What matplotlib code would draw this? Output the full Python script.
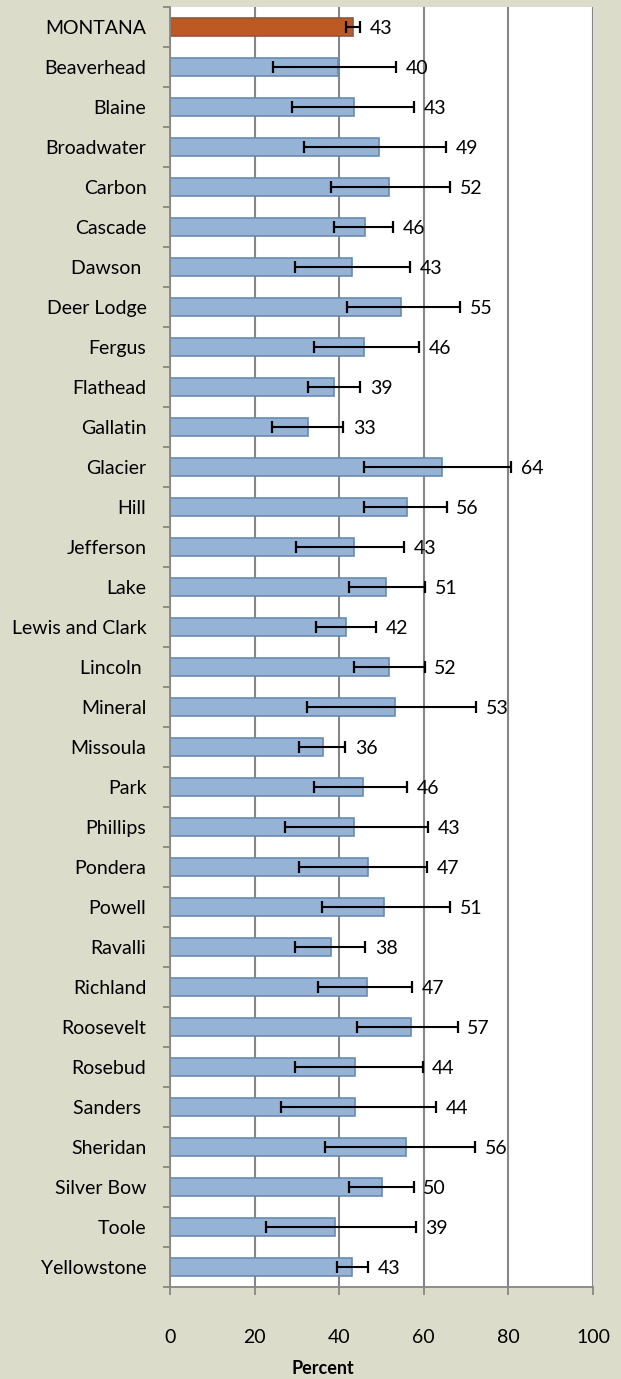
import matplotlib
matplotlib.use("Agg")
import matplotlib.pyplot as plt
import numpy as np

counties = ["MONTANA", "Beaverhead", "Blaine", "Broadwater", "Carbon", "Cascade", "Dawson ",
            "Deer Lodge", "Fergus", "Flathead", "Gallatin", "Glacier", "Hill", "Jefferson",
            "Lake", "Lewis and Clark", "Lincoln ", "Mineral", "Missoula", "Park", "Phillips",
            "Pondera", "Powell", "Ravalli", "Richland", "Roosevelt", "Rosebud", "Sanders ",
            "Sheridan", "Silver Bow", "Toole", "Yellowstone"]
values = [43.3, 39.8, 43.4, 49.4, 51.7, 46.1, 43.1,
          54.5, 45.8, 38.8, 32.7, 64.4, 56.1, 43.4,
          51.1, 41.7, 51.7, 53.3, 36.2, 45.7, 43.4,
          46.8, 50.6, 38.0, 46.5, 56.9, 43.8, 43.8,
          55.7, 50.2, 39.1, 43.1]
ci_low = [41.5, 24.4, 28.9, 31.7, 38.0, 38.8, 29.5,
          41.9, 34.1, 32.6, 24.1, 45.9, 45.9, 29.9,
          42.2, 34.6, 43.5, 32.3, 30.6, 34.0, 27.3,
          30.5, 35.9, 29.5, 35.0, 44.2, 29.6, 26.2,
          36.6, 42.4, 22.6, 39.4]
ci_high = [45.0, 53.4, 57.6, 65.3, 66.3, 52.8, 56.8,
           68.5, 58.9, 45.0, 40.9, 80.6, 65.4, 55.4,
           60.3, 48.7, 60.2, 72.3, 41.4, 56.0, 61.1,
           60.8, 66.3, 46.1, 57.2, 68.0, 59.7, 62.8,
           72.2, 57.6, 58.1, 46.9]
labels = ["43", "40", "43", "49", "52", "46", "43", "55", "46", "39", "33", "64", "56", "43",
          "51", "42", "52", "53", "36", "46", "43", "47", "51", "38", "47", "57", "44", "44",
          "56", "50", "39", "43"]
xticks = [0, 20, 40, 60, 80, 100]

plt.rcParams['font.family'] = ['Lato', 'DejaVu Sans']

bg = '#dcdccb'
fig = plt.figure(figsize=(6.21, 13.79), dpi=100, facecolor=bg)
ax = fig.add_axes([170/621, 1 - 1287/1379, (593-170)/621, (1287-7)/1379])
ax.set_facecolor('white')

n = len(counties)
y = np.arange(n)
colors = ['#bd5a24'] + ['#95b3d7'] * (n - 1)
edges = ['#8a5a40'] + ['#6a8bb0'] * (n - 1)
ax.barh(y, values, height=0.44, color=colors, edgecolor=edges, linewidth=1.2, zorder=2)

vals = np.array(values)
xerr = np.vstack([vals - np.array(ci_low), np.array(ci_high) - vals])
ax.errorbar(vals, y, xerr=xerr, fmt='none', ecolor='black', elinewidth=1.5,
            capsize=4, capthick=1.6, zorder=3)

for yi, hi, lab in zip(y, ci_high, labels):
    ax.text(hi + 2.3, yi + 0.03, lab, va='center', ha='left', fontsize=14, color='black', zorder=4)

ax.set_ylim(n - 0.5, -0.5)
ax.set_xlim(0, 100)
ax.set_xticks(xticks)
ax.set_xticklabels([str(t) for t in xticks], fontsize=14)
ax.set_yticks(y)
ax.set_yticklabels(counties, fontsize=14)
ax.tick_params(axis='y', length=0, pad=17)
ax.set_yticks(np.arange(n + 1) - 0.5, minor=True)
ax.tick_params(axis='y', which='minor', length=5, color='#868686', width=1.3, direction='out')
ax.tick_params(axis='x', length=6, color='#868686', width=1.3, direction='out', pad=24)

ax.xaxis.grid(True, color='#868686', linewidth=1.5, zorder=0)
ax.set_axisbelow(True)
for s in ['top', 'right']:
    ax.spines[s].set_visible(False)
ax.spines['left'].set_color('#868686')
ax.spines['left'].set_linewidth(1.3)
ax.spines['bottom'].set_color('#868686')
ax.spines['bottom'].set_linewidth(1.3)

fig.text(323/621, 1 - 1369/1379, 'Percent', ha='center', va='center', fontsize=13, fontweight='bold')

fig.savefig('out.png', dpi=100, facecolor=bg)
